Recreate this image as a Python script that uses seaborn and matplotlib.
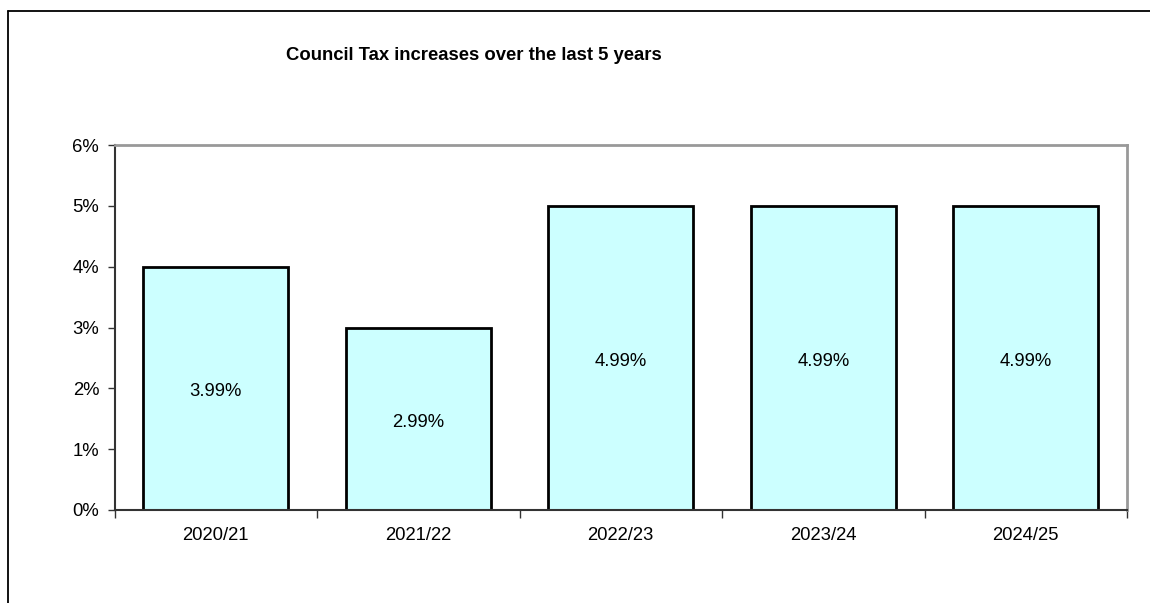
import matplotlib
matplotlib.use("Agg")
import matplotlib.pyplot as plt
import seaborn as sns
import pandas as pd
from matplotlib.lines import Line2D
from matplotlib.ticker import FixedLocator
from matplotlib.transforms import offset_copy

years = ["2020/21", "2021/22", "2022/23", "2023/24", "2024/25"]
increases = [3.99, 2.99, 4.99, 4.99, 4.99]
y_ticks = [0, 1, 2, 3, 4, 5, 6]
y_tick_labels = ["0%", "1%", "2%", "3%", "4%", "5%", "6%"]
title = "Council Tax increases over the last 5 years"

sns.set_style("white")
plt.rcParams["font.family"] = ["Liberation Sans", "DejaVu Sans"]
plt.rcParams["text.color"] = "black"
plt.rcParams["xtick.color"] = "black"
plt.rcParams["ytick.color"] = "black"

df = pd.DataFrame({"year": years, "inc": increases})

fig = plt.figure(figsize=(11.5, 6.03), dpi=100)
ax = fig.add_axes([114.5 / 1150, 1 - 510 / 603, (1127 - 114.5) / 1150, (510 - 145) / 603])

sns.barplot(data=df, x="year", y="inc", ax=ax, color="#CCFFFF", saturation=1,
            edgecolor="black", linewidth=2, width=0.716)

ax.set_xlim(-0.5, len(years) - 0.5)
ax.set_ylim(0, 6)
ax.set_yticks(y_ticks)
ax.set_yticklabels(y_tick_labels, fontsize=13.3, color="black")
ax.set_xlabel("")
ax.set_ylabel("")
ax.tick_params(axis="x", length=0, labelsize=13.3, pad=12, labelcolor="black")
ax.xaxis.set_minor_locator(FixedLocator([i - 0.5 for i in range(len(years) + 1)]))
ax.tick_params(axis="x", which="minor", length=6, width=1, color="#333333", direction="out", bottom=True)
ax.tick_params(axis="y", length=5, width=1, color="#333333", direction="out", left=True, pad=6)

for s in ["left", "bottom"]:
    ax.spines[s].set_color("#333333")
    ax.spines[s].set_linewidth(1.5)
for s in ["top", "right"]:
    ax.spines[s].set_visible(True)
    ax.spines[s].set_color("#999999")
    ax.spines[s].set_linewidth(2)

trans = offset_copy(ax.transData, fig=fig, x=0, y=-3, units="dots")
for p, v in zip(ax.patches, increases):
    ax.text(p.get_x() + p.get_width() / 2, p.get_height() / 2, f"{v:.2f}%",
            ha="center", va="center", fontsize=13.3, color="black", transform=trans)

fig.text(474 / 1150, 1 - 55 / 603, title, ha="center", va="center",
         fontsize=13.3, fontweight="bold", color="black")

x0 = 7.5 / 1150
y0 = 1 - 10.5 / 603
fig.add_artist(Line2D([x0, x0], [0, y0], transform=fig.transFigure, color="black", linewidth=1.3))
fig.add_artist(Line2D([x0, 1], [y0, y0], transform=fig.transFigure, color="black", linewidth=1.3))

fig.savefig("out.png", dpi=100)
